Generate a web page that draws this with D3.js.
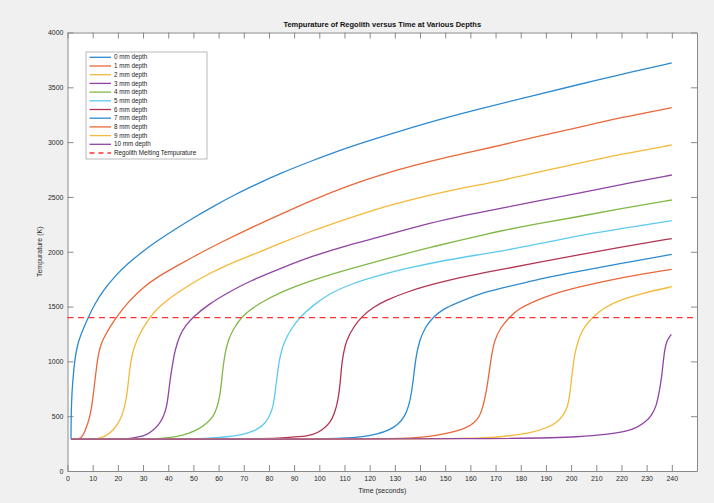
<!DOCTYPE html>
<html>
<head>
<meta charset="utf-8">
<script src="https://cdn.jsdelivr.net/npm/d3@7"></script>
<style>
  body { margin: 0; background: #f0f0f0; }
  svg { display: block; font-family: "Liberation Sans", Arial, sans-serif; }
</style>
</head>
<body>
<div id="chart"></div>
<script>
// readings from the picture: [time (s), temperature (K)]
const depth0 = [[1.4,290],[1.4,420],[1.6,640],[2.0,800],[3,1043],[4,1150],[5,1225],[6.5,1310],[8.3,1405],[11,1530],[14,1640],[18.5,1770],[24,1894],[30,2005],[35,2090],[42,2195],[50,2310],[58,2415],[66,2515],[75,2615],[84,2710],[97,2830],[111,2950],[124,3045],[137,3135],[150,3222],[164,3305],[184,3420],[203,3525],[220,3620],[240,3722]];
const depth1 = [[1.4,290],[4,291],[5.5,300],[6.5,340],[7.6,404],[8.7,480],[9.6,587],[10.3,700],[10.9,830],[11.6,960],[12.3,1073],[13.5,1170],[14.9,1235],[17,1320],[19.5,1405],[24,1540],[30,1675],[36,1775],[43,1864],[50,1955],[55,2015],[60.5,2080],[72,2210],[84,2335],[97,2470],[111,2600],[124,2700],[137,2785],[150,2860],[164,2930],[172,2972],[186,3048],[203,3135],[220,3225],[240,3314]];
const depth2 = [[1.4,290],[10,291],[13,297],[16,330],[18.2,374],[20,430],[21.5,495],[22.7,590],[23.5,678],[24.2,820],[24.8,951],[25.8,1080],[27.5,1195],[30,1305],[32.7,1405],[37,1515],[43.3,1621],[50,1720],[56.5,1803],[63,1875],[69.8,1940],[77,2005],[84.3,2075],[97,2190],[110.8,2300],[124,2400],[137.2,2480],[150,2550],[164,2612],[172,2648],[186,2722],[203,2807],[220,2890],[240,2974]];
const depth3 = [[1.4,290],[20,291],[25,295],[28,310],[31.4,328],[34,370],[36.7,435],[38.2,500],[39.4,587],[40.1,700],[40.7,830],[41.7,970],[42.7,1104],[44.6,1241],[47,1330],[49.9,1405],[56,1520],[63.2,1621],[73,1740],[84.3,1845],[97,1960],[113,2070],[120,2110],[137,2220],[150,2295],[164,2360],[172,2395],[186,2460],[203,2533],[220,2615],[240,2700]];
const depth4 = [[1.4,290],[30,291],[37,295],[43.3,313],[48,340],[52.6,389],[55.5,440],[57.9,495],[59.4,580],[60.5,678],[61.2,820],[61.8,951],[62.6,1080],[63.8,1195],[66,1300],[69.1,1405],[72.5,1470],[76.4,1530],[84.3,1630],[97,1740],[110,1830],[120,1894],[133,1975],[144,2040],[156,2105],[164,2148],[172,2190],[186,2255],[203,2320],[220,2395],[240,2472]];
const depth5 = [[1.4,290],[45,291],[55,297],[63,310],[68,325],[73.7,359],[77,405],[79,450],[80.6,520],[81.7,587],[82.7,760],[83.7,951],[84.5,1060],[86.3,1195],[89,1300],[92.3,1405],[98,1520],[104.2,1621],[113,1710],[124,1788],[137,1860],[150.5,1925],[164,1975],[172,2005],[180,2040],[193,2100],[210,2175],[225,2230],[240,2283]];
const depth6 = [[1.4,290],[70,291],[85,300],[92,312],[97.5,328],[101,370],[104.2,435],[106,520],[107.5,648],[108.3,800],[108.8,951],[109.6,1080],[110.8,1195],[113.5,1310],[116.7,1405],[121,1490],[126.7,1560],[135,1635],[143.8,1697],[155,1760],[164,1803],[172,1835],[186,1900],[203,1970],[220,2045],[240,2120]];
const depth7 = [[1.4,290],[95,291],[110,298],[117.4,313],[123,335],[128,374],[131.5,430],[133.9,495],[135.5,590],[136.6,709],[137.3,830],[137.9,951],[138.7,1080],[139.9,1195],[142,1310],[145.2,1405],[149,1475],[154.4,1530],[163.7,1618],[172,1665],[186,1745],[203,1820],[220,1895],[240,1977]];
const depth8 = [[1.4,290],[120,291],[136,298],[143.8,313],[150,340],[158.4,389],[161.5,440],[163.7,495],[165,587],[166.3,720],[167.3,870],[168.3,1043],[169.6,1195],[172,1310],[175.6,1405],[179,1475],[183.5,1530],[192,1610],[203.4,1681],[220,1765],[240,1840]];
const depth9 = [[1.4,290],[150,291],[165,300],[175,318],[183.5,344],[190,390],[194.1,435],[197,510],[198.7,587],[199.5,700],[200.1,830],[200.8,960],[201.4,1073],[203.4,1241],[205.8,1330],[208.7,1405],[213,1490],[219.2,1560],[229,1625],[240,1681]];
const depth10 = [[1.4,290],[185,291],[203.4,313],[214,332],[221.9,359],[226,395],[229.8,450],[232,510],[233.8,587],[235,720],[235.8,830],[236.5,970],[237.1,1104],[238,1190],[239.8,1247],[239.8,1247]];

const seriesData = [depth0, depth1, depth2, depth3, depth4, depth5, depth6, depth7, depth8, depth9, depth10];
const seriesNames = ["0 mm depth","1 mm depth","2 mm depth","3 mm depth","4 mm depth","5 mm depth",
                     "6 mm depth","7 mm depth","8 mm depth","9 mm depth","10 mm depth"];
const meltTemp = 1400;
const meltName = "Regolith Melting Tempurature";
const xTicks = d3.range(0, 241, 10);
const yTicks = d3.range(0, 4001, 500);

// matlab default line colours (a bit lighter, like the screenshot), cycling
const palette = ["#2d8ad0","#e8683a","#f4b93a","#9045a3","#80b846","#5ccaf0","#b23552"];
const meltColor = "#ff3030";

const W = 714, H = 503;
const plot = { left: 67.5, right: 697, top: 32.5, bottom: 471 };

const svg = d3.select("#chart").append("svg")
    .attr("width", W)
    .attr("height", H);

svg.append("rect")
    .attr("x", plot.left).attr("y", plot.top)
    .attr("width", plot.right - plot.left)
    .attr("height", plot.bottom - plot.top)
    .attr("fill", "#fff");

const x = d3.scaleLinear().domain([0, 250]).range([plot.left, plot.right]);
const y = d3.scaleLinear().domain([0, 4000]).range([plot.bottom, plot.top]);

// axes, matlab style: inward ticks on all four sides
function styleAxis(g) {
    g.selectAll(".domain").attr("stroke", "#8a8a8a").attr("stroke-width", 1);
    g.selectAll(".tick line").attr("stroke", "#8a8a8a");
    g.selectAll(".tick text").attr("fill", "#2a2a2a").style("font-size", "7px");
}

svg.append("g")
    .attr("transform", "translate(0," + plot.bottom + ")")
    .call(d3.axisBottom(x).tickValues(xTicks).tickFormat(d3.format("d"))
        .tickSizeInner(-6).tickSizeOuter(0).tickPadding(5))
    .call(styleAxis);

svg.append("g")
    .attr("transform", "translate(0," + plot.top + ")")
    .call(d3.axisTop(x).tickValues(xTicks).tickSizeInner(-6).tickSizeOuter(0).tickFormat(""))
    .call(styleAxis);

svg.append("g")
    .attr("transform", "translate(" + plot.left + ",0)")
    .call(d3.axisLeft(y).tickValues(yTicks).tickFormat(d3.format("d"))
        .tickSizeInner(-6).tickSizeOuter(0).tickPadding(4))
    .call(styleAxis);

svg.append("g")
    .attr("transform", "translate(" + plot.right + ",0)")
    .call(d3.axisRight(y).tickValues(yTicks).tickSizeInner(-6).tickSizeOuter(0).tickFormat(""))
    .call(styleAxis);

// curves
const line = d3.line()
    .x(d => x(d[0]))
    .y(d => y(d[1]))
    .curve(d3.curveBasis);

svg.append("g")
    .selectAll("path")
    .data(seriesData)
    .join("path")
        .attr("d", line)
        .attr("fill", "none")
        .attr("stroke", (d, i) => palette[i % palette.length])
        .attr("stroke-width", 1.3);

// melting temperature
svg.append("line")
    .attr("x1", plot.left).attr("x2", plot.right)
    .attr("y1", y(meltTemp)).attr("y2", y(meltTemp))
    .attr("stroke", meltColor)
    .attr("stroke-width", 1.3)
    .attr("stroke-dasharray", "6,4.5");

// title and labels
svg.append("text")
    .attr("x", (plot.left + plot.right) / 2)
    .attr("y", 27)
    .attr("text-anchor", "middle")
    .style("font-size", "7.5px")
    .style("font-weight", "bold")
    .attr("fill", "#111")
    .text("Tempurature of Regolith versus Time at Various Depths");

svg.append("text")
    .attr("x", (plot.left + plot.right) / 2)
    .attr("y", 493)
    .attr("text-anchor", "middle")
    .style("font-size", "7px")
    .attr("fill", "#2a2a2a")
    .text("Time (seconds)");

svg.append("text")
    .attr("transform", "translate(42," + ((plot.top + plot.bottom) / 2) + ") rotate(-90)")
    .attr("text-anchor", "middle")
    .style("font-size", "7px")
    .attr("fill", "#2a2a2a")
    .text("Tempurature (K)");

// legend
const leg = svg.append("g");
leg.append("rect")
    .attr("x", 86).attr("y", 52)
    .attr("width", 121).attr("height", 107)
    .attr("fill", "#fff")
    .attr("stroke", "#a8a8a8")
    .attr("stroke-width", 0.8);

const legItems = seriesNames.map((n, i) => ({ name: n, color: palette[i % palette.length], dash: null }))
    .concat([{ name: meltName, color: meltColor, dash: "5,4" }]);

const row = leg.selectAll("g.item")
    .data(legItems)
    .join("g")
        .attr("class", "item")
        .attr("transform", (d, i) => "translate(0," + (57.3 + i * 8.7) + ")");

row.append("line")
    .attr("x1", 89.5).attr("x2", 111)
    .attr("stroke", d => d.color)
    .attr("stroke-width", 1.3)
    .attr("stroke-dasharray", d => d.dash);

row.append("text")
    .attr("x", 114)
    .attr("dy", "0.34em")
    .style("font-size", "6.3px")
    .attr("fill", "#222")
    .text(d => d.name);
</script>
</body>
</html>
